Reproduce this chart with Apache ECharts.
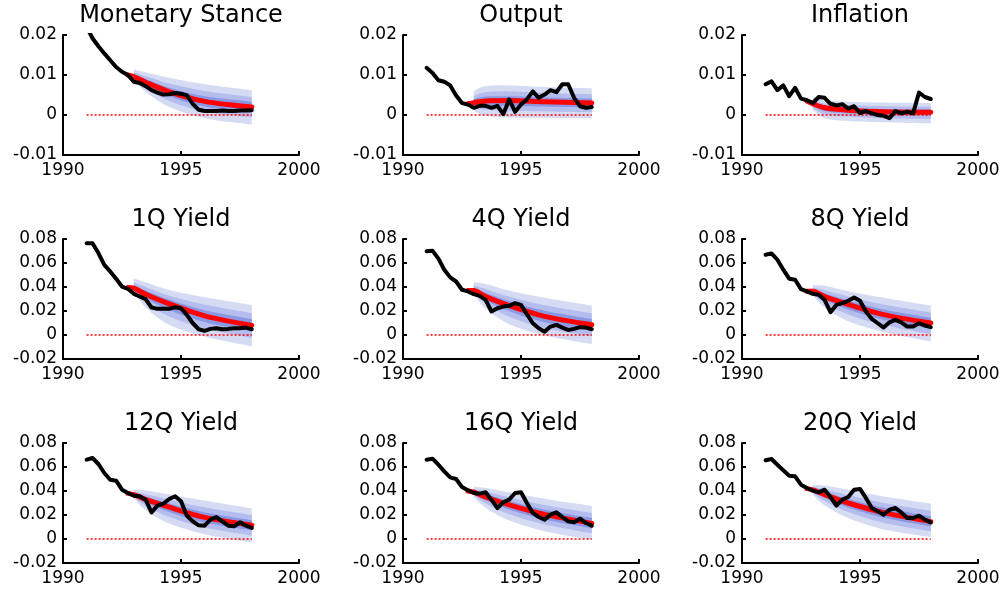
<!DOCTYPE html>
<html><head><meta charset="utf-8">
<script src="https://cdn.jsdelivr.net/npm/echarts@6/dist/echarts.min.js"></script>
<style>html,body{margin:0;padding:0;background:#fff}#c{width:1005px;height:590px}</style>
</head><body><div id="c"></div>
<script>
// ---------------- DATA ----------------
const titles = ['Monetary Stance','Output','Inflation','1Q Yield','4Q Yield','8Q Yield','12Q Yield','16Q Yield','20Q Yield'];
const xMin = 1990, xMax = 2000, xStep = 5;
const yMin  = [-0.01,-0.01,-0.01,-0.02,-0.02,-0.02,-0.02,-0.02,-0.02];
const yMax  = [ 0.02, 0.02, 0.02, 0.08, 0.08, 0.08, 0.08, 0.08, 0.08];
const yStep = [ 0.01, 0.01, 0.01, 0.02, 0.02, 0.02, 0.02, 0.02, 0.02];

const quarters = [1991,1991.25,1991.5,1991.75,1992,1992.25,1992.5,1992.75,1993,1993.25,1993.5,1993.75,
  1994,1994.25,1994.5,1994.75,1995,1995.25,1995.5,1995.75,1996,1996.25,1996.5,1996.75,1997,1997.25,1997.5,1997.75,1998];

const actual = [
 [0.0220,0.0192,0.0172,0.0154,0.0137,0.0120,0.0108,0.0100,0.0083,0.0080,0.0072,0.0062,0.0056,0.0051,0.0052,0.0055,0.0053,0.0049,0.0028,0.0013,0.0010,0.0010,0.0010,0.0011,0.0010,0.0010,0.0011,0.0011,0.0012],
 [0.0118,0.0105,0.0087,0.0083,0.0074,0.0049,0.0030,0.0026,0.0018,0.0023,0.0023,0.0018,0.0023,0.0002,0.0039,0.0008,0.0026,0.0039,0.0059,0.0043,0.0051,0.0062,0.0057,0.0077,0.0077,0.0043,0.0022,0.0018,0.0020],
 [0.0077,0.0084,0.0062,0.0074,0.0047,0.0068,0.0041,0.0037,0.0030,0.0045,0.0043,0.0028,0.0024,0.0027,0.0016,0.0022,0.0005,0.0010,0.0004,0.0000,-0.0002,-0.0008,0.0010,0.0004,0.0008,0.0004,0.0056,0.0045,0.0040],
 [0.0764,0.0764,0.0683,0.0585,0.0530,0.0469,0.0404,0.0385,0.0343,0.0321,0.0299,0.0229,0.0218,0.0218,0.0218,0.0232,0.0223,0.0168,0.0098,0.0048,0.0034,0.0051,0.0056,0.0048,0.0051,0.0056,0.0056,0.0062,0.0048],
 [0.0697,0.0703,0.0636,0.0544,0.0480,0.0446,0.0377,0.0363,0.0340,0.0326,0.0293,0.0196,0.0223,0.0237,0.0243,0.0265,0.0251,0.0173,0.0098,0.0056,0.0028,0.0070,0.0084,0.0062,0.0042,0.0051,0.0065,0.0062,0.0048],
 [0.0669,0.0680,0.0627,0.0544,0.0469,0.0460,0.0382,0.0363,0.0343,0.0335,0.0293,0.0190,0.0251,0.0265,0.0285,0.0313,0.0285,0.0196,0.0134,0.0098,0.0062,0.0106,0.0126,0.0106,0.0070,0.0070,0.0098,0.0079,0.0065],
 [0.0661,0.0675,0.0625,0.0550,0.0494,0.0486,0.0411,0.0383,0.0361,0.0356,0.0328,0.0222,0.0278,0.0294,0.0333,0.0356,0.0314,0.0194,0.0147,0.0114,0.0111,0.0161,0.0183,0.0147,0.0111,0.0106,0.0139,0.0111,0.0092],
 [0.0661,0.0669,0.0619,0.0564,0.0514,0.0500,0.0433,0.0406,0.0383,0.0378,0.0389,0.0328,0.0258,0.0306,0.0328,0.0383,0.0389,0.0300,0.0217,0.0183,0.0161,0.0203,0.0222,0.0183,0.0147,0.0139,0.0169,0.0133,0.0111],
 [0.0656,0.0667,0.0619,0.0572,0.0528,0.0522,0.0453,0.0425,0.0403,0.0389,0.0411,0.0350,0.0278,0.0328,0.0350,0.0411,0.0417,0.0342,0.0258,0.0231,0.0203,0.0244,0.0258,0.0222,0.0175,0.0175,0.0194,0.0161,0.0139]
];

const medianX = [1992.75,1993,1993.5,1994.5,1996,1998];
const median = [
 [0.0100,0.0096,0.0082,0.0058,0.0034,0.0020],
 [0.0028,0.0031,0.0035,0.0036,0.0033,0.0030],
 [0.0035,0.0028,0.0018,0.0012,0.0008,0.0007],
 [0.0395,0.0390,0.0340,0.0260,0.0160,0.0080],
 [0.0370,0.0370,0.0320,0.0245,0.0155,0.0085],
 [0.0365,0.0365,0.0320,0.0255,0.0170,0.0100],
 [0.0380,0.0370,0.0330,0.0265,0.0180,0.0115],
 [0.0400,0.0390,0.0350,0.0285,0.0205,0.0130],
 [0.0420,0.0410,0.0370,0.0300,0.0220,0.0145]
];

const fanX = [1993,1993.5,1994.5,1996,1998];
const outerHi = [
 [0.0114,0.0107,0.0093,0.0077,0.0062],
 [0.0060,0.0072,0.0074,0.0070,0.0067],
 [0.0042,0.0037,0.0033,0.0031,0.0030],
 [0.0470,0.0440,0.0375,0.0315,0.0250],
 [0.0440,0.0425,0.0370,0.0310,0.0245],
 [0.0415,0.0410,0.0365,0.0310,0.0245],
 [0.0410,0.0405,0.0370,0.0320,0.0255],
 [0.0435,0.0425,0.0390,0.0335,0.0275],
 [0.0450,0.0445,0.0410,0.0355,0.0295]
];
const outerLo = [
 [0.0086,0.0058,0.0020,-0.0008,-0.0024],
 [0.0010,-0.0002,-0.0006,-0.0007,-0.0008],
 [0.0012,-0.0008,-0.0015,-0.0018,-0.0021],
 [0.0360,0.0230,0.0085,-0.0013,-0.0095],
 [0.0340,0.0220,0.0090,-0.0005,-0.0075],
 [0.0330,0.0230,0.0115,0.0025,-0.0055],
 [0.0340,0.0240,0.0130,0.0040,-0.0030],
 [0.0350,0.0260,0.0155,0.0065,-0.0008],
 [0.0370,0.0280,0.0175,0.0080,0.0015]
];
const midHi = [
 [0.0107,0.0097,0.0079,0.0060,0.0045],
 [0.0048,0.0057,0.0059,0.0055,0.0052],
 [0.0036,0.0029,0.0025,0.0022,0.0021],
 [0.0438,0.0400,0.0329,0.0253,0.0182],
 [0.0412,0.0383,0.0320,0.0248,0.0181],
 [0.0395,0.0374,0.0321,0.0254,0.0187],
 [0.0394,0.0375,0.0328,0.0264,0.0199],
 [0.0417,0.0395,0.0348,0.0283,0.0217],
 [0.0434,0.0415,0.0366,0.0301,0.0235]
];
const midLo = [
 [0.0090,0.0068,0.0035,0.0009,-0.0006],
 [0.0018,0.0013,0.0011,0.0009,0.0007],
 [0.0018,0.0002,-0.0004,-0.0008,-0.0010],
 [0.0372,0.0274,0.0155,0.0056,-0.0025],
 [0.0352,0.0260,0.0152,0.0059,-0.0011],
 [0.0344,0.0266,0.0171,0.0083,0.0007],
 [0.0352,0.0276,0.0184,0.0096,0.0028],
 [0.0366,0.0296,0.0207,0.0121,0.0047],
 [0.0386,0.0316,0.0225,0.0136,0.0064]
];
const innerHi = [
 [0.0101,0.0090,0.0068,0.0047,0.0033],
 [0.0040,0.0046,0.0047,0.0044,0.0041],
 [0.0032,0.0024,0.0018,0.0015,0.0014],
 [0.0414,0.0370,0.0295,0.0207,0.0131],
 [0.0391,0.0352,0.0283,0.0202,0.0133],
 [0.0380,0.0347,0.0288,0.0212,0.0144],
 [0.0382,0.0353,0.0297,0.0222,0.0157],
 [0.0404,0.0373,0.0317,0.0244,0.0174],
 [0.0422,0.0393,0.0333,0.0261,0.0190]
];
const innerLo = [
 [0.0093,0.0075,0.0047,0.0021,0.0007],
 [0.0025,0.0024,0.0023,0.0021,0.0019],
 [0.0023,0.0010,0.0004,0.0000,-0.0001],
 [0.0381,0.0307,0.0208,0.0108,0.0028],
 [0.0361,0.0290,0.0199,0.0107,0.0037],
 [0.0355,0.0293,0.0213,0.0127,0.0054],
 [0.0361,0.0303,0.0225,0.0138,0.0072],
 [0.0378,0.0323,0.0246,0.0163,0.0089],
 [0.0398,0.0343,0.0263,0.0178,0.0105]
];
const zeroX = [1991, 1998];
const zeroY = [0, 0];

// ---------------- LAYOUT / STYLE ----------------
const colLeft = [63, 403, 742];
const rowTop = [35, 239, 443];
const plotW = 236, plotH = 120;
const FONT = 'DejaVu Sans';
const bandColors = ['#d6dbf4', '#b4bdee', '#8a97e3'];

const grid = [], xAxis = [], yAxis = [], series = [], graphic = [];
const pair = (xs, ys) => xs.map((x, i) => [x, ys[i]]);

// Catmull-Rom sampling of pixel points (drawing geometry only)
function smoothPts(pts, steps) {
  const out = [];
  for (let i = 0; i < pts.length - 1; i++) {
    const p0 = pts[Math.max(i - 1, 0)], p1 = pts[i], p2 = pts[i + 1], p3 = pts[Math.min(i + 2, pts.length - 1)];
    for (let s = 0; s < steps; s++) {
      const t = s / steps, t2 = t * t, t3 = t2 * t;
      const f = (a, b, c, d) => 0.5 * ((2 * b) + (-a + c) * t + (2 * a - 5 * b + 4 * c - d) * t2 + (-a + 3 * b - 3 * c + d) * t3);
      out.push([f(p0[0], p1[0], p2[0], p3[0]), f(p0[1], p1[1], p2[1], p3[1])]);
    }
  }
  out.push(pts[pts.length - 1]);
  return out;
}

function bandSeries(p, lo, hi, color) {
  return {
    type: 'custom', xAxisIndex: p, yAxisIndex: p, silent: true, z: 1, clip: true,
    data: fanX.map((x, i) => [x, lo[i], hi[i]]),
    encode: { x: 0, y: [1, 2] },
    renderItem: function (params, api) {
      if (params.dataIndex !== 0) return null;
      const up = fanX.map((x, i) => api.coord([x, hi[i]]));
      const dn = fanX.map((x, i) => api.coord([x, lo[i]]));
      const top = smoothPts(up, 10);
      const bot = smoothPts(dn, 10).reverse();
      return { type: 'polygon', shape: { points: top.concat(bot) }, style: { fill: color, stroke: null } };
    }
  };
}

for (let p = 0; p < 9; p++) {
  const r = Math.floor(p / 3), c = p % 3;
  grid.push({ left: colLeft[c], top: rowTop[r], width: plotW, height: plotH, show: false });
  xAxis.push({
    type: 'value', gridIndex: p, min: xMin, max: xMax, interval: xStep, position: 'bottom',
    axisLine: { show: true, onZero: false, lineStyle: { color: '#000000', width: 2, type: 'solid' } },
    axisTick: { show: true, inside: true, length: 4, lineStyle: { color: '#000000', width: 2 } },
    axisLabel: { show: true, color: '#000', fontFamily: FONT, fontSize: 17, margin: 7, formatter: v => String(v) },
    splitLine: { show: false }
  });
  yAxis.push({
    type: 'value', gridIndex: p, min: yMin[p], max: yMax[p], interval: yStep[p], position: 'left',
    axisLine: { show: true, onZero: false, lineStyle: { color: '#000000', width: 2, type: 'solid' } },
    axisTick: { show: true, inside: true, length: 4, lineStyle: { color: '#000000', width: 2 } },
    axisLabel: { show: true, color: '#000', fontFamily: FONT, fontSize: 17, margin: 6,
      formatter: v => String(Math.round(v * 1000) / 1000) },
    splitLine: { show: false }
  });

  series.push(bandSeries(p, outerLo[p], outerHi[p], bandColors[0]));
  series.push(bandSeries(p, midLo[p], midHi[p], bandColors[1]));
  series.push(bandSeries(p, innerLo[p], innerHi[p], bandColors[2]));
  series.push({
    type: 'line', xAxisIndex: p, yAxisIndex: p, data: pair(zeroX, zeroY), symbol: 'none', silent: true,
    lineStyle: { color: '#ff0000', width: 1.5, type: [2, 2] }, z: 2
  });
  series.push({
    type: 'line', xAxisIndex: p, yAxisIndex: p, data: pair(medianX, median[p]), symbol: 'none', smooth: 0.3,
    silent: true, lineStyle: { color: '#ff0000', width: 5, cap: 'round', join: 'round' }, z: 3
  });
  series.push({
    type: 'line', xAxisIndex: p, yAxisIndex: p, data: pair(quarters, actual[p]), symbol: 'none',
    silent: true, clip: true, lineStyle: { color: '#000', width: 4, cap: 'round', join: 'round' }, z: 4
  });

  graphic.push({
    type: 'text', x: colLeft[c] + plotW / 2, y: rowTop[r] - 19, silent: true,
    style: { text: titles[p], font: '24px "' + FONT + '"', fill: '#000',
      align: 'center', verticalAlign: 'middle', textAlign: 'center', textVerticalAlign: 'middle' }
  });
}

const chart = echarts.init(document.getElementById('c'));
chart.setOption({ animation: false, backgroundColor: '#fff', grid, xAxis, yAxis, series, graphic });
</script></body></html>
